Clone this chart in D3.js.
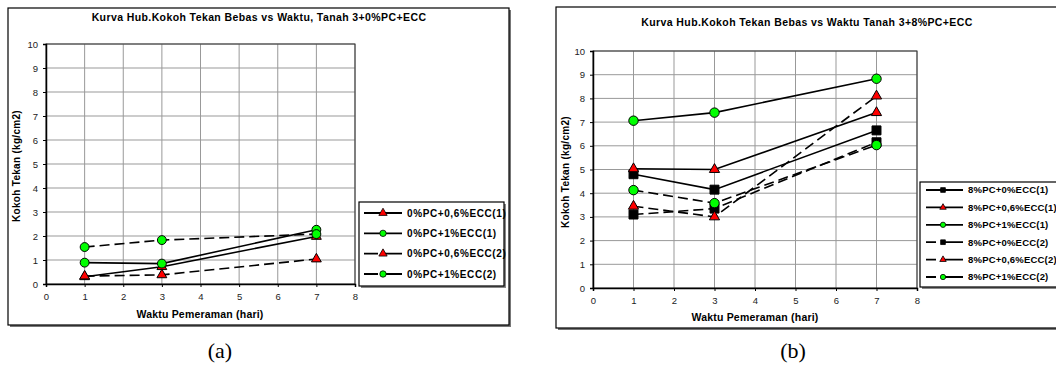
<!DOCTYPE html>
<html>
<head>
<meta charset="utf-8">
<style>
  body { margin: 0; background: #fff; }
  svg { display: block; font-family: "Liberation Sans", Arial, sans-serif; }
  .title, .axis-title, .legend-text { font-weight: bold; fill: #000; }
  .tick text { font-size: 9.5px; fill: #222; }
  .caption { font-family: "Liberation Serif", "Times New Roman", serif; font-size: 22px; }
</style>
</head>
<body>
<svg width="1056" height="367"></svg>

<script src="https://d3js.org/d3.v7.min.js"></script>
<script>
// --- data ---
const days = [1, 3, 7];
const xTicks = [0, 1, 2, 3, 4, 5, 6, 7, 8];
const yTicks = [0, 1, 2, 3, 4, 5, 6, 7, 8, 9, 10];

// panel (a)
const titleA = "Kurva Hub.Kokoh Tekan Bebas vs Waktu, Tanah 3+0%PC+ECC";
const namesA = ["0%PC+0,6%ECC(1)", "0%PC+1%ECC(1)", "0%PC+0,6%ECC(2)", "0%PC+1%ECC(2)"];
const valuesA = [
  [0.30, 0.72, 1.98],
  [0.89, 0.85, 2.26],
  [0.33, 0.38, 1.04],
  [1.54, 1.83, 2.08]
];

// panel (b)
const titleB = "Kurva Hub.Kokoh Tekan Bebas vs Waktu Tanah 3+8%PC+ECC";
const namesB = ["8%PC+0%ECC(1)", "8%PC+0,6%ECC(1)", "8%PC+1%ECC(1)",
                "8%PC+0%ECC(2)", "8%PC+0,6%ECC(2)", "8%PC+1%ECC(2)"];
const valuesB = [
  [4.80, 4.15, 6.65],
  [5.03, 5.00, 7.40],
  [7.06, 7.40, 8.83],
  [3.10, 3.35, 6.15],
  [3.45, 3.00, 8.10],
  [4.13, 3.58, 6.03]
];

const xLabel = "Waktu Pemeraman (hari)";
const yLabel = "Kokoh Tekan (kg/cm2)";

// style helpers, picked from the series name
const markerOf = n => n.includes("0,6%") ? "triangle" : (n.includes("1%ECC") ? "circle" : "square");
const dashedOf = n => n.includes("(2)");
const symbolType = { triangle: d3.symbolTriangle, circle: d3.symbolCircle, square: d3.symbolSquare };
const fillOf = { triangle: "#ff0000", circle: "#00ff00", square: "#000" };

const svg = d3.select("svg");

function drawPanel(p) {
  let g = svg.append("g");

  // outer chart box with a little shadow
  g.append("rect")
    .attr("x", p.box[0] + 2).attr("y", p.box[1] + 2)
    .attr("width", p.box[2] - p.box[0]).attr("height", p.box[3] - p.box[1])
    .style("fill", "#777");
  g.append("rect")
    .attr("x", p.box[0]).attr("y", p.box[1])
    .attr("width", p.box[2] - p.box[0]).attr("height", p.box[3] - p.box[1])
    .style("fill", "#fff").style("stroke", "#000").style("stroke-width", 1.2);

  let x = d3.scaleLinear().domain([0, 8]).range([p.plot[0], p.plot[2]]);
  let y = d3.scaleLinear().domain([0, 10]).range([p.plot[3], p.plot[1]]);

  // grid
  g.append("g").selectAll("line").data(xTicks.slice(1))
    .join("line")
    .attr("x1", d => x(d)).attr("x2", d => x(d))
    .attr("y1", y(0)).attr("y2", y(10))
    .style("stroke", "#999").style("stroke-width", 1);
  g.append("g").selectAll("line").data(yTicks.slice(1))
    .join("line")
    .attr("x1", x(0)).attr("x2", x(8))
    .attr("y1", d => y(d)).attr("y2", d => y(d))
    .style("stroke", "#999").style("stroke-width", 1);

  g.append("rect")
    .attr("x", x(0)).attr("y", y(10))
    .attr("width", x(8) - x(0)).attr("height", y(0) - y(10))
    .style("fill", "none").style("stroke", "#333").style("stroke-width", 1);

  // axes
  let xAxis = g.append("g")
    .attr("transform", "translate(0," + y(0) + ")")
    .call(d3.axisBottom(x).tickValues(xTicks).tickFormat(d3.format("d")).tickSize(3).tickPadding(6));
  let yAxis = g.append("g")
    .attr("transform", "translate(" + x(0) + ",0)")
    .call(d3.axisLeft(y).tickValues(yTicks).tickFormat(d3.format("d")).tickSize(3).tickPadding(5));
  [xAxis, yAxis].forEach(a => {
    a.select(".domain").style("stroke", "#000").style("stroke-width", 1.5);
    a.selectAll(".tick line").style("stroke", "#000");
    a.selectAll(".tick text").style("font-family", "Liberation Sans, Arial, sans-serif");
  });

  // titles
  g.append("text").attr("class", "title")
    .attr("x", p.titlePos[0]).attr("y", p.titlePos[1])
    .attr("text-anchor", "middle")
    .style("font-size", "10.5px").style("letter-spacing", "0.4px")
    .text(p.title);
  g.append("text").attr("class", "axis-title")
    .attr("x", p.xLabelPos[0]).attr("y", p.xLabelPos[1])
    .attr("text-anchor", "middle")
    .style("font-size", "10.5px").style("letter-spacing", "0.2px")
    .text(xLabel);
  g.append("text").attr("class", "axis-title")
    .attr("transform", "translate(" + p.yLabelPos[0] + "," + p.yLabelPos[1] + ") rotate(-90)")
    .attr("text-anchor", "middle")
    .style("font-size", "10px").style("letter-spacing", "0.3px")
    .text(yLabel);

  // series lines
  let line = d3.line().x((d, i) => x(days[i])).y(d => y(d));
  g.append("g").selectAll("path").data(p.values)
    .join("path")
    .attr("d", line)
    .style("fill", "none").style("stroke", "#000").style("stroke-width", 1.6)
    .style("stroke-dasharray", (d, i) => dashedOf(p.names[i]) ? "10,5" : null);

  // markers
  p.values.forEach((vals, i) => {
    let m = markerOf(p.names[i]);
    g.append("g").selectAll("path").data(vals)
      .join("path")
      .attr("transform", (d, j) => "translate(" + x(days[j]) + "," + y(d) + ")")
      .attr("d", d3.symbol().type(symbolType[m]).size(p.markerSize[m]))
      .style("fill", fillOf[m]).style("stroke", "#000").style("stroke-width", 1);
  });

  // legend
  let lg = g.append("g");
  lg.append("rect")
    .attr("x", p.legendBox[0] + 2).attr("y", p.legendBox[1] + 2)
    .attr("width", p.legendBox[2] - p.legendBox[0]).attr("height", p.legendBox[3] - p.legendBox[1])
    .style("fill", "#888");
  lg.append("rect")
    .attr("x", p.legendBox[0]).attr("y", p.legendBox[1])
    .attr("width", p.legendBox[2] - p.legendBox[0]).attr("height", p.legendBox[3] - p.legendBox[1])
    .style("fill", "#fff").style("stroke", "#000").style("stroke-width", 1.2);
  let ly = d3.scalePoint().domain(p.names).range(p.legendRows);
  let items = lg.selectAll("g").data(p.names).join("g")
    .attr("transform", d => "translate(0," + ly(d) + ")");
  items.append("line")
    .attr("x1", p.legendLine[0]).attr("x2", p.legendLine[2])
    .style("stroke", "#000").style("stroke-width", 1.8)
    .style("stroke-dasharray", d => dashedOf(d) ? p.legendDash : null);
  items.append("path")
    .attr("transform", "translate(" + p.legendLine[1] + ",0)")
    .attr("d", d => d3.symbol().type(symbolType[markerOf(d)]).size(p.legendMarker[markerOf(d)])())
    .style("fill", d => fillOf[markerOf(d)]).style("stroke", "#000").style("stroke-width", 0.8);
  items.append("text").attr("class", "legend-text")
    .attr("x", p.legendText).attr("dy", "0.35em")
    .style("font-size", p.legendFont)
    .style("letter-spacing", p.legendSpacing)
    .text(d => d);

  // caption
  svg.append("text").attr("class", "caption")
    .attr("x", p.caption[0]).attr("y", p.caption[1])
    .attr("text-anchor", "middle")
    .text(p.captionText);
}

drawPanel({
  title: titleA, names: namesA, values: valuesA,
  box: [8, 8, 509, 325], plot: [46, 44, 355, 284],
  titlePos: [259, 21], xLabelPos: [200, 318], yLabelPos: [20, 166],
  markerSize: { triangle: 42, circle: 62, square: 60 },
  legendBox: [359, 202, 504, 286], legendRows: [213, 274],
  legendLine: [364, 383, 402], legendText: 407,
  legendMarker: { triangle: 30, circle: 32, square: 25 },
  legendDash: "14,4,40", legendFont: "10px", legendSpacing: "0.6px",
  caption: [220, 358], captionText: "(a)"
});

drawPanel({
  title: titleB, names: namesB, values: valuesB,
  box: [556, 7, 1075, 328], plot: [593, 51, 917, 288],
  titlePos: [807, 26], xLabelPos: [755, 321], yLabelPos: [569, 172],
  markerSize: { triangle: 45, circle: 70, square: 80 },
  legendBox: [920, 182, 1070, 287], legendRows: [190, 277],
  legendLine: [926, 943, 963], legendText: 968,
  legendMarker: { triangle: 18, circle: 22, square: 22 },
  legendDash: "10,5,30", legendFont: "9.5px", legendSpacing: "0.2px",
  caption: [793, 358], captionText: "(b)"
});
</script>
</body>
</html>
